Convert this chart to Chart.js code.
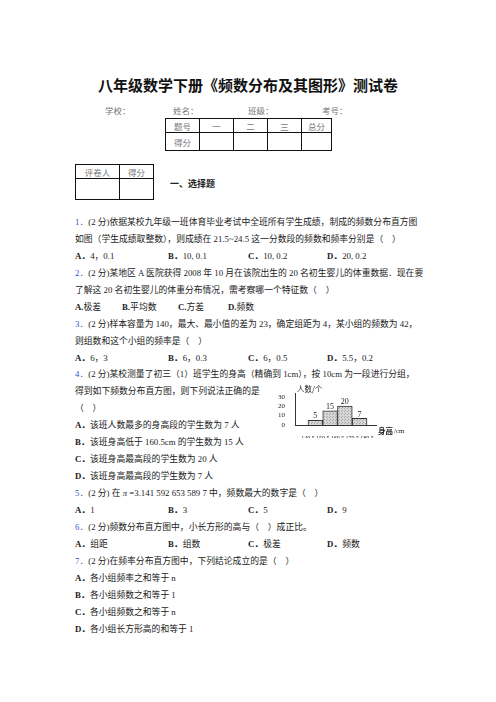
<!DOCTYPE html>
<html>
<head>
<meta charset="utf-8">
<script src="https://cdn.jsdelivr.net/npm/chart.js@4.4.0/dist/chart.umd.min.js"></script>
<style>
  html, body { margin: 0; padding: 0; background: #fff; }
  body { width: 496px; height: 702px; position: relative; overflow: hidden;
         font-family: "Liberation Serif", "Noto Sans CJK SC", serif; color: #222; }
  .abs { position: absolute; white-space: nowrap; }
  .title { left: 0; width: 496px; top: 75px; text-align: center; font-size: 15px; font-weight: bold;
           font-family: "Noto Sans CJK SC", sans-serif; color: #111; line-height: 20px; }
  .info { top: 104px; font-size: 8.5px; color: #777; font-family: "Noto Sans CJK SC", sans-serif; line-height: 12px; }
  table.box { position: absolute; border-collapse: collapse; font-size: 8.5px; color: #777;
              font-family: "Noto Sans CJK SC", sans-serif; }
  table.box td { border: 1px solid #111; padding: 0; text-align: center; }
  .ln { font-size: 8.8px; line-height: 14px; }
  .num { color: #3b55c8; }
  .opt { font-weight: bold; }
  .sec { left: 170px; top: 177px; font-size: 9px; font-weight: bold; font-family: "Noto Sans CJK SC", sans-serif; line-height: 14px; }
  #histWrap { position: absolute; left: 270px; top: 383px; width: 136px; height: 60px; }
</style>
</head>
<body>
<div class="abs title">八年级数学下册《频数分布及其图形》测试卷</div>

<div class="abs info" style="left:105px">学校：</div>
<div class="abs info" style="left:173px">姓名：</div>
<div class="abs info" style="left:248px">班级：</div>
<div class="abs info" style="left:322px">考号：</div>

<table class="box" style="left:165px; top:118px; width:167px;">
  <tr style="height:14px"><td style="width:33px">题号</td><td style="width:33px">一</td><td style="width:33px">二</td><td style="width:33px">三</td><td>总分</td></tr>
  <tr style="height:18px"><td>得分</td><td></td><td></td><td></td><td></td></tr>
</table>

<table class="box" style="left:75px; top:164px; width:79px;">
  <tr style="height:14px"><td style="width:43px">评卷人</td><td>得分</td></tr>
  <tr style="height:21px"><td></td><td></td></tr>
</table>

<div class="abs sec">一、选择题</div>

<div id="text"></div>

<div id="histWrap"><canvas id="hist"></canvas></div>

<script>
// 直方图数据
const binStarts = [140.5, 150.5, 160.5, 170.5];
const counts = [5, 15, 20, 7];
const xTickLabels = [140.5, 150.5, 160.5, 170.5, 180.5];
const yTickLabels = [0, 10, 20, 30];
const binWidth = 10;

// 试卷文字：[行号, x, html]
const lines = [
  [0, 75, '<span class="num">1．</span>(2 分)依据某校九年级一班体育毕业考试中全班所有学生成绩，制成的频数分布直方图'],
  [1, 75, '如图（学生成绩取整数），则成绩在 21.5~24.5 这一分数段的频数和频率分别是（　）'],
  [2, 75, '<span class="opt">A．</span>4，0.1'], [2, 168, '<span class="opt">B．</span>10, 0.1'],
  [2, 248, '<span class="opt">C．</span>10, 0.2'], [2, 327, '<span class="opt">D．</span>20, 0.2'],
  [3, 75, '<span class="num">2．</span>(2 分)某地区 A 医院获得 2008 年 10 月在该院出生的 20 名初生婴儿的体重数据．现在要'],
  [4, 75, '了解这 20 名初生婴儿的体重分布情况，需考察哪一个特征数（　）'],
  [5, 75, '<span class="opt">A.</span>极差'], [5, 122, '<span class="opt">B.</span>平均数'],
  [5, 178, '<span class="opt">C.</span>方差'], [5, 228, '<span class="opt">D.</span>频数'],
  [6, 75, '<span class="num">3．</span>(2 分)样本容量为 140，最大、最小值的差为 23，确定组距为 4，某小组的频数为 42，'],
  [7, 75, '则组数和这个小组的频率是（　）'],
  [8, 75, '<span class="opt">A．</span>6，3'], [8, 168, '<span class="opt">B．</span>6，0.3'],
  [8, 248, '<span class="opt">C．</span>6，0.5'], [8, 327, '<span class="opt">D．</span>5.5，0.2'],
  [9, 75, '<span class="num">4．</span>(2 分)某校测量了初三（1）班学生的身高（精确到 1cm），按 10cm 为一段进行分组，'],
  [10, 75, '得到如下频数分布直方图，则下列说法正确的是'],
  [11, 75, '（　）'],
  [12, 75, '<span class="opt">A．</span>'], [12, 90, '该班人数最多的身高段的学生数为 7 人'],
  [13, 75, '<span class="opt">B．</span>'], [13, 90, '该班身高低于 160.5cm 的学生数为 15 人'],
  [14, 75, '<span class="opt">C．</span>'], [14, 90, '该班身高最高段的学生数为 20 人'],
  [15, 75, '<span class="opt">D．</span>'], [15, 90, '该班身高最高段的学生数为 7 人'],
  [16, 75, '<span class="num">5．</span>(2 分) 在 <i>π</i> =3.141 592 653 589 7 中，频数最大的数字是（　）'],
  [17, 75, '<span class="opt">A．</span>1'], [17, 168, '<span class="opt">B．</span>3'],
  [17, 248, '<span class="opt">C．</span>5'], [17, 327, '<span class="opt">D．</span>9'],
  [18, 75, '<span class="num">6．</span>(2 分)频数分布直方图中，小长方形的高与（　）成正比。'],
  [19, 75, '<span class="opt">A．</span>组距'], [19, 168, '<span class="opt">B．</span>组数'],
  [19, 248, '<span class="opt">C．</span>极差'], [19, 327, '<span class="opt">D．</span>频数'],
  [20, 75, '<span class="num">7．</span>(2 分)在频率分布直方图中，下列结论成立的是（　）'],
  [21, 75, '<span class="opt">A．</span>'], [21, 90, '各小组频率之和等于 n'],
  [22, 75, '<span class="opt">B．</span>'], [22, 90, '各小组频数之和等于 1'],
  [23, 75, '<span class="opt">C．</span>'], [23, 90, '各小组频数之和等于 n'],
  [24, 75, '<span class="opt">D．</span>'], [24, 90, '各小组长方形高的和等于 1']
];

var box = document.getElementById("text");
for (let i = 0; i < lines.length; i++) {
  var d = document.createElement("div");
  d.className = "abs ln";
  d.style.left = lines[i][1] + "px";
  d.style.top = (222 + lines[i][0] * 16.94 - 7) + "px";
  d.innerHTML = lines[i][2];
  box.appendChild(d);
}

// 网点填充
function makeDots() {
  var c = document.createElement("canvas");
  c.width = 3; c.height = 3;
  var g = c.getContext("2d");
  g.fillStyle = "#d6d6d6";
  g.fillRect(0, 0, 3, 3);
  g.fillStyle = "#a8a8a8";
  g.fillRect(0, 0, 1, 1);
  g.fillRect(2, 1, 1, 1);
  return g.createPattern(c, "repeat");
}

var histData = [];
for (let i = 0; i < counts.length; i++) {
  histData.push({ x: binStarts[i] + binWidth / 2, y: counts[i] });
}

const labelPlugin = {
  id: "labels",
  afterDatasetsDraw(chart) {
    var ctx = chart.ctx;
    var meta = chart.getDatasetMeta(0);
    ctx.save();
    ctx.fillStyle = "#222";
    ctx.font = "8px 'Liberation Serif'";
    ctx.textAlign = "center";
    ctx.textBaseline = "bottom";
    meta.data.forEach(function (bar, i) {
      ctx.fillText(counts[i], bar.x, bar.y);
    });
    var a = chart.chartArea;
    ctx.textAlign = "left";
    ctx.textBaseline = "middle";
    ctx.font = "7.5px 'Noto Sans CJK SC'";
    ctx.fillText("人数/个", a.left + 2, a.top - 4);
    ctx.font = "bold 7.5px 'Noto Sans CJK SC'";
    ctx.fillText("身高", a.right + 2, a.bottom + 6);
    ctx.font = "7px 'Liberation Serif'";
    ctx.fillText("/cm", a.right + 18, a.bottom + 6);
    ctx.restore();
  }
};

new Chart("hist", {
  type: "bar",
  data: {
    datasets: [{
      data: histData,
      backgroundColor: makeDots(),
      borderColor: "#333",
      borderWidth: 1,
      barPercentage: 1,
      categoryPercentage: 1
    }]
  },
  options: {
    responsive: true,
    maintainAspectRatio: false,
    animation: false,
    layout: { padding: { top: 10, right: 30, bottom: 5 } },
    plugins: { legend: { display: false }, tooltip: { enabled: false } },
    scales: {
      x: {
        type: "linear",
        min: 131.7,
        max: 186.6,
        offset: false,
        grid: { display: false },
        border: { display: true, color: "#333", width: 1 },
        afterBuildTicks: function (s) { s.ticks = xTickLabels.map(v => ({ value: v })); },
        afterFit: function (s) { s.height = 13; },
        ticks: { padding: 2, color: "#222", font: { size: 6, family: "Liberation Serif" },
                 maxRotation: 0, autoSkip: false, callback: v => String(v) }
      },
      y: {
        min: 0,
        max: 34,
        grid: { display: false },
        border: { display: true, color: "#333", width: 1 },
        afterBuildTicks: function (s) { s.ticks = yTickLabels.map(v => ({ value: v })); },
        afterFit: function (s) { s.width = 25; },
        ticks: { padding: 2, color: "#222", font: { size: 7, family: "Liberation Serif" },
                 autoSkip: false, callback: v => String(v) }
      }
    }
  },
  plugins: [labelPlugin]
});
</script>
</body>
</html>
